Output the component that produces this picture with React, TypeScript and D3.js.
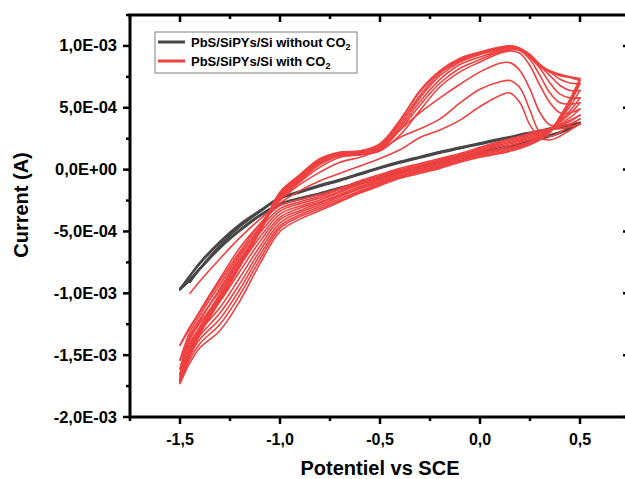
import React from "react";
import * as d3 from "d3";

// Potential grids (V vs SCE)
const FWD_E = [-1.5, -1.45, -1.4, -1.3, -1.2, -1.1, -1.0, -0.9, -0.8, -0.7, -0.6, -0.5, -0.4, -0.3, -0.2, -0.1, 0.0, 0.1, 0.15, 0.2, 0.25, 0.3, 0.35, 0.4, 0.45, 0.5];
const REV_E = [0.5, 0.45, 0.4, 0.35, 0.3, 0.2, 0.1, 0.0, -0.1, -0.2, -0.3, -0.4, -0.5, -0.6, -0.7, -0.8, -0.9, -1.0, -1.1, -1.2, -1.3, -1.4, -1.45, -1.5];

// Currents in units of 1e-4 A
// Without CO2 (3 cycles)
const GRAY_FWD_1 = [null, -9.1, -8.0, -6.1, -4.6, -3.4, -2.35, -1.85, -1.35, -0.9, -0.4, 0.1, 0.55, 0.95, 1.35, 1.7, 2.05, 2.4, 2.55, 2.75, 2.9, 3.05, 3.25, 3.4, 3.55, 3.7];
const GRAY_REV_1 = [3.7, 3.3, 2.95, 2.7, 2.45, 2.0, 1.65, 1.3, 0.95, 0.55, 0.15, -0.25, -0.7, -1.15, -1.55, -2.0, -2.4, -2.85, -3.75, -4.95, -6.35, -8.05, -8.95, -9.7];
const GRAY_FWD_2 = [-9.7, -8.6, -7.6, -5.9, -4.5, -3.35, -2.3, -1.8, -1.3, -0.85, -0.35, 0.15, 0.6, 1.0, 1.4, 1.75, 2.1, 2.45, 2.6, 2.8, 2.95, 3.1, 3.3, 3.45, 3.6, 3.75];
const GRAY_REV_2 = [3.75, 3.35, 3.0, 2.75, 2.5, 2.05, 1.7, 1.35, 1.0, 0.6, 0.2, -0.2, -0.65, -1.1, -1.5, -1.95, -2.35, -2.8, -3.7, -4.9, -6.3, -8.0, -8.9, -9.65];
const GRAY_FWD_3 = [-9.65, -8.55, -7.5, -5.8, -4.4, -3.3, -2.25, -1.75, -1.25, -0.8, -0.3, 0.2, 0.65, 1.05, 1.45, 1.8, 2.15, 2.5, 2.65, 2.85, 3.0, 3.15, 3.35, 3.5, 3.65, 3.8];
const GRAY_REV_3 = [3.8, 3.4, 3.05, 2.8, 2.55, 2.1, 1.75, 1.4, 1.05, 0.65, 0.25, -0.15, -0.6, -1.05, -1.45, -1.9, -2.3, -2.75, -3.65, -4.85, -6.25, -7.95, -8.85, -9.6];

// With CO2 (10 cycles)
const RED_FWD_1 = [null, -10.0, -9.0, -7.2, -5.5, -4.0, -2.7, -1.7, -0.9, -0.3, 0.3, 0.9, 1.6, 2.6, 3.2, 4.0, 5.1, 6.0, 6.2, 5.4, 3.6, 2.6, 2.4, 2.7, 3.2, 3.7];
const RED_FWD_2 = [-14.2, -12.7, -11.5, -9.0, -6.6, -4.4, -2.5, -1.2, -0.2, 0.6, 1.0, 1.6, 2.6, 3.3, 4.1, 5.4, 6.5, 7.1, 7.2, 6.6, 4.8, 3.0, 2.7, 3.0, 3.6, 4.1];
const RED_FWD_3 = [-15.4, -13.6, -12.2, -9.6, -7.0, -4.6, -2.4, -1.0, 0.2, 1.0, 1.2, 1.7, 3.2, 4.6, 5.8, 6.9, 7.9, 8.6, 8.65, 8.0, 6.5, 4.6, 3.6, 3.6, 4.0, 4.4];
const RED_FWD_4 = [-16.1, -14.2, -12.7, -10.0, -7.3, -4.8, -2.3, -0.9, 0.4, 1.1, 1.2, 1.5, 2.8, 4.8, 6.7, 7.9, 8.7, 9.4, 9.6, 9.4, 8.4, 6.8, 5.4, 4.6, 4.6, 4.9];
const RED_FWD_5 = [-16.5, -14.5, -12.9, -10.2, -7.5, -4.9, -2.2, -0.8, 0.5, 1.2, 1.3, 1.6, 3.2, 5.2, 7.0, 8.2, 8.9, 9.5, 9.7, 9.6, 8.9, 7.6, 6.2, 5.4, 5.3, 5.4];
const RED_FWD_6 = [-16.7, -14.7, -13.0, -10.3, -7.6, -5.0, -2.2, -0.7, 0.6, 1.2, 1.3, 1.7, 3.4, 5.5, 7.3, 8.5, 9.1, 9.6, 9.8, 9.7, 9.1, 8.2, 7.0, 6.1, 5.8, 5.8];
const RED_FWD_7 = [-16.9, -14.8, -13.1, -10.4, -7.7, -5.0, -2.1, -0.6, 0.7, 1.3, 1.4, 1.8, 3.6, 5.8, 7.6, 8.7, 9.3, 9.7, 9.9, 9.8, 9.3, 8.4, 7.6, 6.8, 6.4, 6.4];
const RED_FWD_8 = [-17.0, -15.0, -13.2, -10.5, -7.8, -5.0, -2.0, -0.5, 0.8, 1.3, 1.4, 1.9, 3.8, 6.0, 7.8, 8.8, 9.4, 9.8, 9.95, 9.8, 9.3, 8.5, 7.9, 7.3, 7.0, 6.95];
const RED_FWD_9 = [-17.1, -15.0, -13.3, -10.6, -7.8, -5.0, -1.9, -0.5, 0.8, 1.4, 1.5, 2.0, 4.0, 6.3, 7.9, 8.9, 9.4, 9.8, 10.0, 9.8, 9.2, 8.4, 8.0, 7.7, 7.5, 7.36];
const RED_FWD_10 = [-17.2, -14.9, -13.2, -10.5, -7.7, -4.9, -1.8, -0.4, 0.9, 1.4, 1.5, 2.1, 4.0, 6.4, 8.0, 9.0, 9.5, 9.9, 10.0, 9.8, 9.1, 8.3, 7.9, 7.6, 7.45, 7.2];

const RED_REV_1 = [3.7, 3.45, 3.3, 3.25, 3.2, 2.7, 2.3, 1.8, 1.3, 0.9, 0.5, 0.1, -0.4, -0.9, -1.5, -2.0, -2.4, -2.9, -4.4, -6.3, -8.8, -11.4, -12.8, -14.2];
const RED_REV_2 = [4.1, 3.7, 3.45, 3.25, 3.1, 2.6, 2.2, 1.7, 1.2, 0.8, 0.4, 0.0, -0.5, -1.0, -1.6, -2.15, -2.6, -3.15, -4.75, -6.8, -9.3, -11.75, -13.1, -15.4];
const RED_REV_3 = [4.4, 3.9, 3.55, 3.3, 3.0, 2.5, 2.1, 1.6, 1.15, 0.7, 0.3, -0.1, -0.6, -1.1, -1.75, -2.3, -2.75, -3.35, -5.1, -7.25, -9.75, -12.05, -13.4, -16.1];
const RED_REV_4 = [4.9, 4.2, 3.7, 3.3, 2.9, 2.4, 2.0, 1.5, 1.05, 0.65, 0.25, -0.15, -0.7, -1.2, -1.85, -2.45, -2.95, -3.6, -5.45, -7.75, -10.2, -12.4, -13.7, -16.5];
const RED_REV_5 = [5.4, 4.5, 3.85, 3.3, 2.8, 2.3, 1.9, 1.45, 1.0, 0.55, 0.15, -0.25, -0.8, -1.35, -2.0, -2.6, -3.1, -3.85, -5.8, -8.2, -10.65, -12.75, -14.0, -16.7];
const RED_REV_6 = [5.8, 4.75, 3.95, 3.25, 2.7, 2.2, 1.7, 1.35, 0.9, 0.45, 0.05, -0.35, -0.9, -1.45, -2.1, -2.7, -3.3, -4.05, -6.2, -8.7, -11.15, -13.05, -14.4, -16.9];
const RED_REV_7 = [6.4, 5.1, 4.1, 3.2, 2.6, 2.0, 1.6, 1.25, 0.85, 0.35, -0.05, -0.45, -1.0, -1.55, -2.2, -2.85, -3.45, -4.3, -6.55, -9.2, -11.6, -13.4, -14.7, -17.0];
const RED_REV_8 = [6.95, 5.4, 4.2, 3.15, 2.5, 1.9, 1.5, 1.2, 0.75, 0.3, -0.1, -0.5, -1.1, -1.7, -2.35, -3.0, -3.65, -4.55, -6.9, -9.65, -12.05, -13.7, -15.0, -17.1];
const RED_REV_9 = [7.36, 5.7, 4.3, 3.1, 2.45, 1.8, 1.4, 1.1, 0.7, 0.2, -0.2, -0.6, -1.2, -1.8, -2.5, -3.15, -3.8, -4.75, -7.25, -10.1, -12.5, -14.05, -15.3, -17.2];
const RED_REV_10 = [7.2, 5.5, 4.0, 3.0, 2.4, 1.7, 1.3, 1.0, 0.6, 0.1, -0.3, -0.7, -1.3, -1.9, -2.6, -3.3, -4.0, -5.0, -7.6, -10.6, -13.0, -14.4, -15.6, -17.3];

const X_TICKS = [-1.5, -1.0, -0.5, 0.0, 0.5];
const X_MINOR = [-1.75, -1.25, -0.75, -0.25, 0.25, 0.75];
const Y_TICKS = [-2e-3, -1.5e-3, -1e-3, -5e-4, 0, 5e-4, 1e-3];
const Y_MINOR = [-1.75e-3, -1.25e-3, -7.5e-4, -2.5e-4, 2.5e-4, 7.5e-4, 1.25e-3];
const X_TICK_LABELS = ["-1,5", "-1,0", "-0,5", "0,0", "0,5"];
const Y_TICK_LABELS = ["-2,0E-03", "-1,5E-03", "-1,0E-03", "-5,0E-04", "0,0E+00", "5,0E-04", "1,0E-03"];
const SERIES_NAMES = ["PbS/SiPYs/Si without CO", "PbS/SiPYs/Si with CO"];

const GRAY = "#474747";
const RED = "#EF4040";
const FONT = "'Liberation Sans', Arial, sans-serif";

const W = 625, H = 479;
const L = 130, R = 630, T = 15, B = 417;

export default function App() {
  const x = d3.scaleLinear().domain([-1.75, 0.75]).range([L, R]);
  const y = d3.scaleLinear().domain([-2e-3, 1.25e-3]).range([B, T]);

  const mk = (grid: number[]) =>
    d3
      .line<number | null>()
      .defined((v) => v !== null)
      .x((_, i) => x(grid[i]))
      .y((v) => y((v as number) * 1e-4))
      .curve(d3.curveCatmullRom.alpha(0.5));
  const fwd = mk(FWD_E);
  const rev = mk(REV_E);

  const grayF = [GRAY_FWD_1, GRAY_FWD_2, GRAY_FWD_3];
  const grayR = [GRAY_REV_1, GRAY_REV_2, GRAY_REV_3];
  const redF = [RED_FWD_1, RED_FWD_2, RED_FWD_3, RED_FWD_4, RED_FWD_5, RED_FWD_6, RED_FWD_7, RED_FWD_8, RED_FWD_9, RED_FWD_10];
  const redR = [RED_REV_1, RED_REV_2, RED_REV_3, RED_REV_4, RED_REV_5, RED_REV_6, RED_REV_7, RED_REV_8, RED_REV_9, RED_REV_10];

  return (
    <svg
      width={W}
      height={H}
      style={{ position: "absolute", left: 0, top: 0, background: "#fff" }}
      fontFamily={FONT}
    >
      <defs>
        <clipPath id="plot">
          <rect x={L} y={T} width={R - L} height={B - T} />
        </clipPath>
      </defs>
      <g clipPath="url(#plot)" fill="none" strokeLinejoin="round" strokeLinecap="round">
        {grayF.map((d, i) => (
          <path key={"gf" + i} d={fwd(d) || ""} stroke={GRAY} strokeWidth={2} />
        ))}
        {grayR.map((d, i) => (
          <path key={"gr" + i} d={rev(d) || ""} stroke={GRAY} strokeWidth={2} />
        ))}
        {redF.map((d, i) => (
          <path key={"rf" + i} d={fwd(d) || ""} stroke={RED} strokeWidth={1.6} />
        ))}
        {redR.map((d, i) => (
          <path key={"rr" + i} d={rev(d) || ""} stroke={RED} strokeWidth={1.6} />
        ))}
      </g>

      {/* axes frame */}
      <rect x={L} y={T} width={R - L} height={B - T} fill="none" stroke="#000" strokeWidth={3} />

      {/* x ticks */}
      {X_TICKS.map((v, i) => (
        <g key={"xt" + i}>
          <line x1={x(v)} x2={x(v)} y1={B} y2={B + 7} stroke="#000" strokeWidth={2.5} />
          <line x1={x(v)} x2={x(v)} y1={T} y2={T + 7} stroke="#000" strokeWidth={2.5} />
          <text x={x(v)} y={445} textAnchor="middle" fontSize={16} fontWeight="bold">
            {X_TICK_LABELS[i]}
          </text>
        </g>
      ))}
      {X_MINOR.map((v, i) => (
        <g key={"xm" + i}>
          <line x1={x(v)} x2={x(v)} y1={B} y2={B + 4} stroke="#000" strokeWidth={2.5} />
          <line x1={x(v)} x2={x(v)} y1={T} y2={T + 4} stroke="#000" strokeWidth={2.5} />
        </g>
      ))}
      {/* y ticks */}
      {Y_TICKS.map((v, i) => (
        <g key={"yt" + i}>
          <line x1={L - 7} x2={L} y1={y(v)} y2={y(v)} stroke="#000" strokeWidth={2.5} />
          <line x1={R - 7} x2={R} y1={y(v)} y2={y(v)} stroke="#000" strokeWidth={2.5} />
          <text x={117} y={y(v) + 5.5} textAnchor="end" fontSize={16.5} fontWeight="bold">
            {Y_TICK_LABELS[i]}
          </text>
        </g>
      ))}
      {Y_MINOR.map((v, i) => (
        <g key={"ym" + i}>
          <line x1={L - 4} x2={L} y1={y(v)} y2={y(v)} stroke="#000" strokeWidth={2.5} />
          <line x1={R - 4} x2={R} y1={y(v)} y2={y(v)} stroke="#000" strokeWidth={2.5} />
        </g>
      ))}

      {/* axis titles */}
      <text x={380} y={475} textAnchor="middle" fontSize={20} fontWeight="bold">
        Potentiel vs SCE
      </text>
      <text
        transform="translate(28,205) rotate(-90)"
        textAnchor="middle"
        fontSize={20}
        fontWeight="bold"
      >
        Current (A)
      </text>

      {/* legend */}
      <rect x={155} y={32} width={202} height={41} fill="#fff" stroke="#7f7f7f" strokeWidth={1} />
      <line x1={158} x2={185} y1={42} y2={42} stroke={GRAY} strokeWidth={3} />
      <line x1={158} x2={185} y1={61} y2={61} stroke={RED} strokeWidth={3} />
      <text x={191} y={46.5} fontSize={13} fontWeight="bold">
        {SERIES_NAMES[0]}
        <tspan dy={3} fontSize={9}>2</tspan>
      </text>
      <text x={191} y={65.5} fontSize={13} fontWeight="bold">
        {SERIES_NAMES[1]}
        <tspan dy={3} fontSize={9}>2</tspan>
      </text>
    </svg>
  );
}
